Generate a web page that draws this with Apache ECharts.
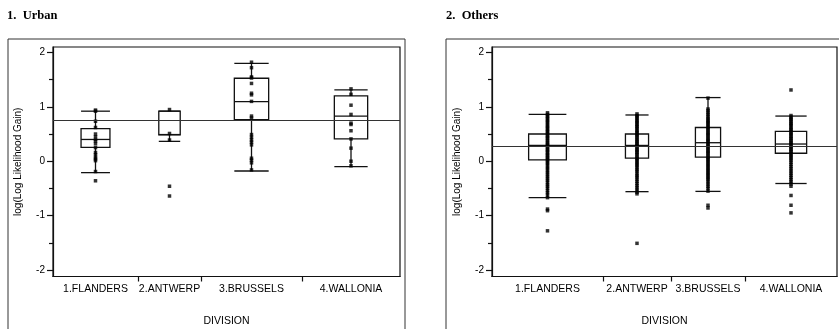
<!DOCTYPE html>
<html>
<head>
<meta charset="utf-8">
<script src="https://cdn.jsdelivr.net/npm/echarts@6/dist/echarts.min.js"></script>
<style>
  html, body { margin: 0; padding: 0; background: #fff; }
  #chart { width: 839px; height: 329px; }
</style>
</head>
<body>
<div id="chart"></div>
<script>
const divisions = ['1.FLANDERS', '2.ANTWERP', '3.BRUSSELS', '4.WALLONIA'];
const yTicks = [-2, -1, 0, 1, 2];
const yMinorTicks = [-1.5, -0.5, 0.5, 1.5];

// relative group sizes (x widths of each division)
const urbanSizes = [85, 63, 101, 98];
const othersSizes = [111, 68, 74, 92];

const urbanMean = 0.76;
const othersMean = 0.27;

// [lower whisker, q1, median, q3, upper whisker]
const urbanBoxes = [
  [-0.21, 0.255, 0.40, 0.60, 0.92],
  [0.365, 0.485, 0.49, 0.92, 0.92],
  [-0.18, 0.765, 1.095, 1.525, 1.80],
  [-0.10, 0.41, 0.83, 1.20, 1.31]
];
const othersBoxes = [
  [-0.67, 0.025, 0.29, 0.50, 0.86],
  [-0.56, 0.055, 0.29, 0.50, 0.85],
  [-0.555, 0.075, 0.34, 0.62, 1.17],
  [-0.41, 0.146, 0.316, 0.547, 0.83]
];

const urbanFlanders = [0.94, 0.92, 0.735, 0.62, 0.50, 0.45, 0.40, 0.37, 0.32, 0.25, 0.16, 0.12, 0.07, 0.04, 0.01, -0.19, -0.36];
const urbanAntwerp = [0.95, 0.51, 0.39, -0.46, -0.64];
const urbanBrussels = [1.82, 1.72, 1.55, 1.53, 1.43, 1.25, 1.22, 1.10, 0.83, 0.795, 0.49, 0.44, 0.39, 0.35, 0.30, 0.055, 0.02, -0.03, -0.16];
const urbanWallonia = [1.33, 1.23, 1.03, 0.86, 0.70, 0.675, 0.56, 0.41, 0.24, 0.0, -0.085];

const othersFlanders = [0.89, 0.86, 0.83, 0.81, 0.78, 0.75, 0.73, 0.70, 0.67, 0.64, 0.62, 0.59, 0.56, 0.54, 0.51, 0.48, 0.46, 0.43, 0.41, 0.38, 0.35, 0.33, 0.30, 0.28, 0.25, 0.22, 0.20, 0.17, 0.15, 0.12, 0.10, 0.07, 0.05, 0.02, -0.01, -0.04, -0.07, -0.11, -0.14, -0.18, -0.21, -0.25, -0.28, -0.32, -0.35, -0.39, -0.43, -0.46, -0.50, -0.54, -0.58, -0.62, -0.67, -0.88, -0.91, -1.28];
const othersAntwerp = [0.87, 0.84, 0.82, 0.79, 0.76, 0.73, 0.71, 0.68, 0.65, 0.63, 0.60, 0.57, 0.54, 0.52, 0.49, 0.47, 0.44, 0.41, 0.38, 0.36, 0.33, 0.31, 0.28, 0.25, 0.22, 0.20, 0.17, 0.15, 0.12, 0.09, 0.06, 0.04, 0.01, -0.02, -0.05, -0.08, -0.11, -0.15, -0.18, -0.22, -0.26, -0.29, -0.33, -0.37, -0.41, -0.45, -0.49, -0.53, -0.57, -0.60, -1.51];
const othersBrussels = [1.16, 0.96, 0.93, 0.89, 0.86, 0.82, 0.79, 0.76, 0.73, 0.71, 0.68, 0.65, 0.62, 0.60, 0.57, 0.54, 0.51, 0.49, 0.46, 0.43, 0.40, 0.38, 0.35, 0.32, 0.29, 0.27, 0.24, 0.21, 0.18, 0.16, 0.13, 0.10, 0.07, 0.05, 0.02, -0.01, -0.04, -0.07, -0.10, -0.13, -0.16, -0.19, -0.22, -0.25, -0.28, -0.31, -0.34, -0.38, -0.42, -0.46, -0.50, -0.55, -0.81, -0.86];
const othersWallonia = [1.31, 0.84, 0.81, 0.78, 0.76, 0.73, 0.70, 0.68, 0.65, 0.62, 0.59, 0.57, 0.54, 0.51, 0.49, 0.46, 0.43, 0.41, 0.38, 0.35, 0.33, 0.30, 0.27, 0.25, 0.22, 0.19, 0.17, 0.14, 0.11, 0.08, 0.05, 0.02, -0.02, -0.06, -0.10, -0.14, -0.18, -0.22, -0.26, -0.30, -0.34, -0.38, -0.42, -0.46, -0.63, -0.81, -0.95];

const urbanPoints = [urbanFlanders, urbanAntwerp, urbanBrussels, urbanWallonia];
const othersPoints = [othersFlanders, othersAntwerp, othersBrussels, othersWallonia];

const FONT = 'Liberation Sans';
const INK = '#111';

const cumulative = sizes => {
  const edges = [0];
  sizes.forEach(s => edges.push(edges[edges.length - 1] + s));
  return edges;
};

const renderBox = (params, api) => {
  const x0 = api.value(0);
  const x1 = api.value(1);
  const cx = api.coord([(x0 + x1) / 2, 0])[0];
  const half = api.size([x1 - x0, 0])[0] * 0.17;
  const y = i => api.coord([x0, api.value(i)])[1];
  const lo = y(2), q1 = y(3), med = y(4), q3 = y(5), hi = y(6);
  const style = { stroke: INK, lineWidth: 1.3, fill: 'none' };
  return {
    type: 'group',
    children: [
      { type: 'line', shape: { x1: cx, y1: q1, x2: cx, y2: lo }, style },
      { type: 'line', shape: { x1: cx, y1: q3, x2: cx, y2: hi }, style },
      { type: 'line', shape: { x1: cx - half, y1: lo, x2: cx + half, y2: lo }, style },
      { type: 'line', shape: { x1: cx - half, y1: hi, x2: cx + half, y2: hi }, style },
      { type: 'rect', shape: { x: cx - half, y: q3, width: 2 * half, height: q1 - q3 }, style },
      { type: 'line', shape: { x1: cx - half, y1: med, x2: cx + half, y2: med }, style }
    ]
  };
};

const buildPanel = (idx, sizes, boxes, points, mean) => {
  const edges = cumulative(sizes);
  const centers = sizes.map((s, i) => edges[i] + s / 2);
  const total = edges[edges.length - 1];

  const xAxis = {
    gridIndex: idx,
    type: 'value',
    min: 0,
    max: total,
    splitLine: { show: false },
    axisLine: { show: true, onZero: false, lineStyle: { color: INK, width: 1.2 } },
    axisTick: { show: true, length: 5, customValues: edges.slice(1, -1), lineStyle: { color: INK, width: 1.2 } },
    axisLabel: {
      customValues: centers,
      margin: 7,
      color: '#000',
      fontSize: 10.5,
      fontFamily: FONT,
      formatter: v => {
        let best = 0;
        centers.forEach((c, i) => { if (Math.abs(c - v) < Math.abs(centers[best] - v)) best = i; });
        return divisions[best];
      }
    },
    name: 'DIVISION',
    nameLocation: 'middle',
    nameGap: 39,
    nameTextStyle: { color: '#000', fontSize: 10.5, fontFamily: FONT }
  };

  const yMajor = {
    gridIndex: idx,
    type: 'value',
    min: -2.12,
    max: 2.1,
    splitLine: { show: false },
    axisLine: { show: true, onZero: false, lineStyle: { color: INK, width: 1.2 } },
    axisTick: { show: true, length: 6, customValues: yTicks, lineStyle: { color: INK, width: 1.2 } },
    axisLabel: { customValues: yTicks, margin: 8, color: '#000', fontSize: 10, fontFamily: FONT },
    name: 'log(Log Likelihood Gain)',
    nameLocation: 'middle',
    nameRotate: 90,
    nameGap: 30,
    nameTextStyle: { color: '#000', fontSize: 10, fontFamily: FONT }
  };
  const yMinor = {
    gridIndex: idx,
    type: 'value',
    min: -2.12,
    max: 2.1,
    position: 'left',
    splitLine: { show: false },
    axisLine: { show: false, onZero: false },
    axisTick: { show: true, length: 4, customValues: yMinorTicks, lineStyle: { color: INK, width: 1.2 } },
    axisLabel: { show: false }
  };

  const boxSeries = {
    type: 'custom',
    xAxisIndex: idx,
    yAxisIndex: idx * 2,
    renderItem: renderBox,
    encode: { x: [0, 1], y: [2, 3, 4, 5, 6] },
    silent: true,
    z: 2,
    data: boxes.map((b, i) => [edges[i], edges[i + 1]].concat(b))
  };

  const pointData = [];
  points.forEach((vals, i) => vals.forEach(v => pointData.push([centers[i], v])));
  const pointSeries = {
    type: 'scatter',
    xAxisIndex: idx,
    yAxisIndex: idx * 2,
    symbol: 'rect',
    symbolSize: 3.5,
    itemStyle: { color: '#000' },
    silent: true,
    z: 3,
    data: pointData,
    markLine: {
      silent: true,
      symbol: 'none',
      label: { show: false },
      lineStyle: { color: '#333', width: 1, type: 'solid' },
      data: [{ yAxis: mean }]
    }
  };

  return { xAxis, yAxes: [yMajor, yMinor], series: [boxSeries, pointSeries] };
};

const urban = buildPanel(0, urbanSizes, urbanBoxes, urbanPoints, urbanMean);
const others = buildPanel(1, othersSizes, othersBoxes, othersPoints, othersMean);

const chart = echarts.init(document.getElementById('chart'), null, { renderer: 'canvas' });
const titleStyle = { color: '#000', fontSize: 12.5, fontWeight: 'bold', fontFamily: 'Liberation Serif' };
chart.setOption({
  animation: false,
  backgroundColor: '#fff',
  title: [
    { text: '1.  Urban', left: 7, top: 9, padding: 0, textStyle: titleStyle },
    { text: '2.  Others', left: 446, top: 9, padding: 0, textStyle: titleStyle }
  ],
  graphic: [
    { type: 'rect', shape: { x: 8, y: 39, width: 397, height: 400 }, style: { stroke: '#333', lineWidth: 1, fill: 'none' }, silent: true },
    { type: 'rect', shape: { x: 446, y: 39, width: 420, height: 400 }, style: { stroke: '#333', lineWidth: 1, fill: 'none' }, silent: true }
  ],
  grid: [
    { left: 53, top: 47, width: 347, height: 229.5, show: true, borderColor: INK, borderWidth: 1.2, backgroundColor: 'transparent', containLabel: false, outerBoundsMode: 'none' },
    { left: 492, top: 47, width: 345, height: 229.5, show: true, borderColor: INK, borderWidth: 1.2, backgroundColor: 'transparent', containLabel: false, outerBoundsMode: 'none' }
  ],
  xAxis: [urban.xAxis, others.xAxis],
  yAxis: urban.yAxes.concat(others.yAxes),
  series: urban.series.concat(others.series)
});
</script>
</body>
</html>
